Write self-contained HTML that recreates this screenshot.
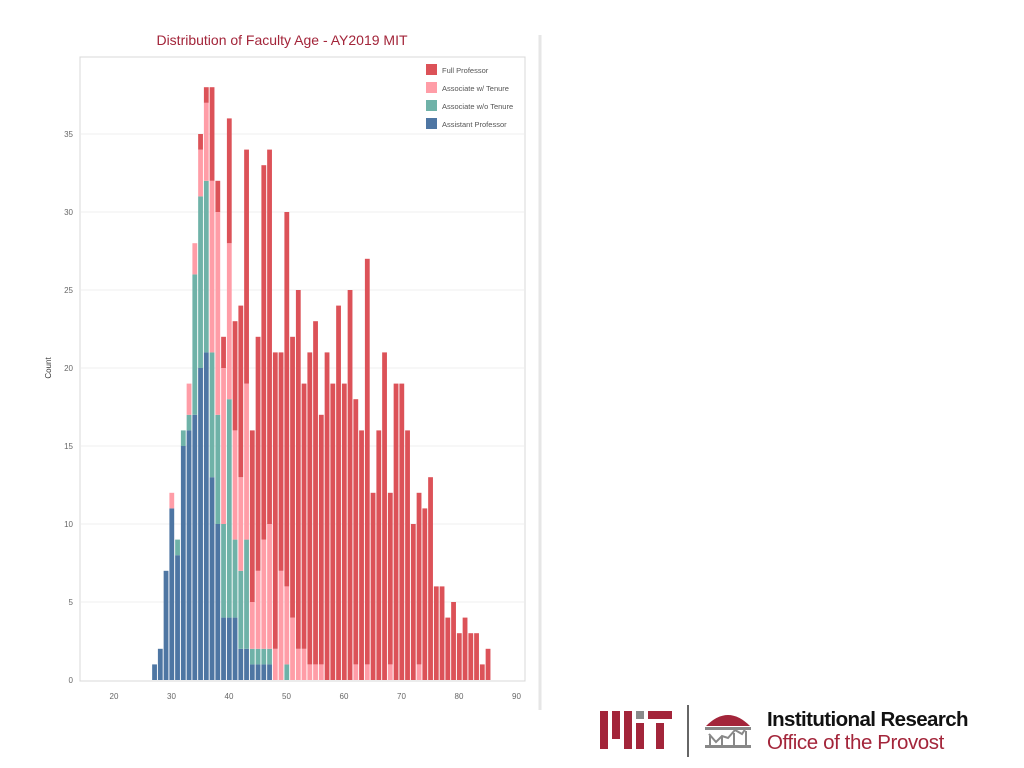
<!DOCTYPE html>
<html><head><meta charset="utf-8"><style>
body{margin:0;width:1024px;height:768px;background:#fff;overflow:hidden;font-family:"Liberation Sans",sans-serif;}
svg{position:absolute;left:0;top:0;}
</style></head><body>
<svg id="chart" width="1024" height="768">
<text x="282" y="45" text-anchor="middle" font-size="14" fill="#a3253a">Distribution of Faculty Age - AY2019  MIT</text>
<rect x="80" y="57" width="445" height="624" fill="none" stroke="#d8d8d8"/>
<line x1="540" y1="35" x2="540" y2="710" stroke="#e6e6e6" stroke-width="3"/>
<text transform="translate(51,368) rotate(-90)" text-anchor="middle" font-size="8" fill="#333">Count</text>
<g id="grid"></g><g id="bars"></g><g id="ticks"></g>
<g font-size="7.5" fill="#555">
<rect x="426" y="64" width="11" height="11" fill="#dc5258"/><text x="442" y="73">Full Professor</text>
<rect x="426" y="82" width="11" height="11" fill="#ff9da7"/><text x="442" y="91">Associate w/ Tenure</text>
<rect x="426" y="100" width="11" height="11" fill="#6fb2a8"/><text x="442" y="109">Associate w/o Tenure</text>
<rect x="426" y="118" width="11" height="11" fill="#4e76a3"/><text x="442" y="127">Assistant Professor</text>
</g>
<g fill="#a3253a">
<rect x="600" y="711" width="8" height="38"/><rect x="612" y="711" width="8" height="28"/><rect x="624" y="711" width="8" height="38"/>
<rect x="636" y="711" width="8" height="8" fill="#8a8a8a"/><rect x="636" y="723" width="8" height="26"/>
<rect x="648" y="711" width="24" height="8"/><rect x="656" y="723" width="8" height="26"/>
</g>
<line x1="688" y1="705" x2="688" y2="757" stroke="#333" stroke-width="1.5"/>
<g>
<path d="M706 726 Q728 704 750 726 Z" fill="#a3253a"/>
<rect x="705" y="727" width="46" height="3" fill="#888"/>
<rect x="705" y="745" width="46" height="3" fill="#888"/>
<polyline points="709,734 716,742 722,736 728,738 735,730 742,734 746,728" fill="none" stroke="#888" stroke-width="2"/>
<rect x="709" y="736" width="2" height="9" fill="#888"/><rect x="721" y="737" width="2" height="8" fill="#888"/><rect x="733" y="733" width="2" height="12" fill="#888"/><rect x="745" y="731" width="2" height="14" fill="#888"/>
</g>
<text x="767" y="726" font-size="20.5" font-weight="bold" fill="#111" letter-spacing="-0.6">Institutional Research</text>
<text x="767" y="749" font-size="20.5" fill="#a3253a" letter-spacing="-0.4">Office of the Provost</text>
</svg>
<script>
const ages=[27,28,29,30,31,32,33,34,35,36,37,38,39,40,41,42,43,44,45,46,47,48,49,50,51,52,53,54,55,56,57,58,59,60,61,62,63,64,65,66,67,68,69,70,71,72,73,74,75,76,77,78,79,80,81,82,83,84,85];
const assistant=[1,2,7,11,8,15,16,17,20,21,13,10,4,4,4,2,2,1,1,1,1,0,0,0,0,0,0,0,0,0,0,0,0,0,0,0,0,0,0,0,0,0,0,0,0,0,0,0,0,0,0,0,0,0,0,0,0,0,0];
const assocNoTenure=[0,0,0,0,1,1,1,9,11,11,8,7,6,14,5,5,7,1,1,1,1,0,0,1,0,0,0,0,0,0,0,0,0,0,0,0,0,0,0,0,0,0,0,0,0,0,0,0,0,0,0,0,0,0,0,0,0,0,0];
const assocTenure=[0,0,0,1,0,0,2,2,3,5,11,13,10,10,7,6,10,3,5,7,8,2,7,5,4,2,2,1,1,1,0,0,0,0,0,1,0,1,0,0,0,1,0,0,0,0,1,0,0,0,0,0,0,0,0,0,0,0,0];
const full=[0,0,0,0,0,0,0,0,1,1,6,2,2,8,7,11,15,11,15,24,24,19,14,24,18,23,17,20,22,16,21,19,24,19,25,17,16,26,12,16,21,11,19,19,16,10,11,11,13,6,6,4,5,3,4,3,3,1,2];
const yTicks=[0,5,10,15,20,25,30,35];
const xTicks=[20,30,40,50,60,70,80,90];
const series=[[assistant,'#4e76a3','assistant'],[assocNoTenure,'#6fb2a8','assoc-no-tenure'],[assocTenure,'#ff9da7','assoc-tenure'],[full,'#dc5258','full']];
const NS='http://www.w3.org/2000/svg';
const xs=v=>114+(v-20)*5.75;
const ys=v=>680-v*15.6;
function mk(t,a,p){const e=document.createElementNS(NS,t);for(const k in a)e.setAttribute(k,a[k]);p.appendChild(e);return e;}
const grid=document.getElementById('grid'),ticks=document.getElementById('ticks'),bars=document.getElementById('bars');
yTicks.forEach(t=>{
 if(t>0){const l=mk('line',{x1:81,x2:524,y1:ys(t),y2:ys(t),stroke:'#efefef'},grid);
 
 }
 const tx=mk('text',{x:73,y:ys(t)+3,'text-anchor':'end','font-size':8,fill:'#666'},ticks);tx.textContent=t;
 
 
});
xTicks.forEach(t=>{
 const tx=mk('text',{x:xs(t),y:699,'text-anchor':'middle','font-size':8,fill:'#666'},ticks);tx.textContent=t;
 
 
});
ages.forEach((a,i)=>{
 let base=0;const cx=xs(a)+0.3;
 series.forEach(([arr,col,nm])=>{
  const v=arr[i];if(!v)return;
  const r=mk('rect',{x:cx-2.4,width:4.8,y:ys(base+v),height:v*15.6,fill:col},bars);
  
  
  base+=v;
 });
});
</script>
</body></html>
